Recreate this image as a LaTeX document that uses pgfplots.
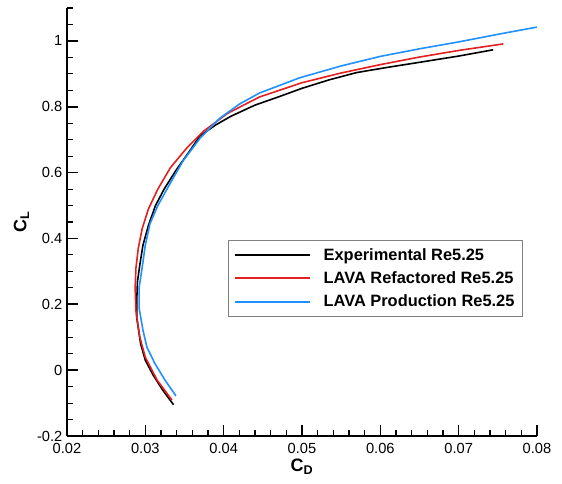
\documentclass[border=0pt]{standalone}
\usepackage{fontspec}
\setmainfont{Liberation Sans}
\usepackage{pgfplots}
\pgfplotsset{compat=1.18}
\definecolor{lavared}{RGB}{228,32,32}
\definecolor{lavablue}{RGB}{30,144,255}
\begin{document}
\begin{tikzpicture}
\begin{axis}[
    scale only axis,
    width=352.5pt, height=321pt,
    xmin=0.02, xmax=0.08,
    ymin=-0.2, ymax=1.1,
    axis x line*=bottom,
    axis y line*=left,
    axis line style={line width=1.4pt},
    tick align=inside,
    major tick length=8pt,
    minor tick length=4.5pt,
    every tick/.style={black, line width=1.2pt},
    minor tick style={black, line width=0.8pt},
    xtick={0.02,0.03,...,0.08},
    minor xtick={0.022,0.024,...,0.08},
    ytick={-0.2,0,0.2,0.4,0.6,0.8,1},
    minor ytick={-0.15,-0.1,-0.05,0.05,0.1,0.15,0.25,0.3,0.35,0.45,0.5,0.55,0.65,0.7,0.75,0.85,0.9,0.95,1.05,1.1},
    scaled x ticks=false,
    xticklabel style={yshift=-2pt, /pgf/number format/.cd, fixed, fixed zerofill, precision=2},
    /pgf/number format/assume math mode=true,
    tick label style={font=\fontsize{11}{13}\selectfont},
    xlabel={\textbf{C}\textsubscript{\textbf{D}}},
    ylabel={\textbf{C}\textsubscript{\textbf{L}}},
    label style={font=\fontsize{13.5}{15}\selectfont},
    xlabel style={yshift=3pt},
    ylabel style={yshift=-1pt},
    legend style={at={(0.343,0.458)}, anchor=north west, draw=gray,
        font=\fontsize{12.3}{14}\selectfont\bfseries, row sep=3pt,
        inner xsep=4pt, inner ysep=4pt},
    legend cell align=left,
    legend image code/.code={\draw[line width=1.6pt] (0pt,0pt) -- (56pt,0pt); \path (64pt,0pt);},
]
\addplot[black, line width=1.2pt] coordinates {
(0.0336,-0.105)(0.0322,-0.06)(0.0310,-0.015)(0.0300,0.03)(0.0294,0.08)
(0.0289,0.16)(0.0289,0.21)(0.0290,0.27)(0.0293,0.32)(0.0297,0.38)
(0.0304,0.44)(0.0313,0.50)(0.0324,0.55)(0.0340,0.61)(0.0355,0.66)
(0.0370,0.712)(0.0390,0.745)(0.0410,0.772)(0.0440,0.805)(0.0470,0.83)
(0.0500,0.856)(0.0535,0.882)(0.0570,0.904)(0.0610,0.92)(0.0650,0.935)
(0.0700,0.954)(0.0744,0.973)
};
\addlegendentry{Experimental Re5.25}
\addplot[lavared, line width=1.2pt] coordinates {
(0.0334,-0.091)(0.0315,-0.03)(0.0300,0.039)(0.0293,0.10)(0.0288,0.18)
(0.0287,0.25)(0.0288,0.31)(0.0291,0.37)(0.0296,0.43)(0.0304,0.49)
(0.0316,0.55)(0.0332,0.615)(0.0353,0.675)(0.0375,0.727)(0.0405,0.78)
(0.0446,0.83)(0.0500,0.873)(0.0549,0.902)(0.0600,0.928)(0.0650,0.951)
(0.0700,0.971)(0.0757,0.991)
};
\addlegendentry{LAVA Refactored Re5.25}
\addplot[lavablue, line width=1.2pt] coordinates {
(0.0339,-0.078)(0.0325,-0.03)(0.0312,0.021)(0.0302,0.07)(0.0297,0.121)
(0.0292,0.19)(0.0292,0.25)(0.0296,0.312)(0.0300,0.38)(0.0306,0.445)
(0.0316,0.50)(0.0330,0.56)(0.0348,0.635)(0.0370,0.705)(0.0395,0.765)
(0.0420,0.808)(0.0446,0.842)(0.0497,0.888)(0.0550,0.924)(0.0600,0.953)
(0.0650,0.976)(0.0700,0.997)(0.0750,1.02)(0.0800,1.042)
};
\addlegendentry{LAVA Production Re5.25}
\end{axis}
\useasboundingbox (-50.25pt,-36pt) rectangle (371.25pt,327pt);
\end{tikzpicture}
\end{document}
